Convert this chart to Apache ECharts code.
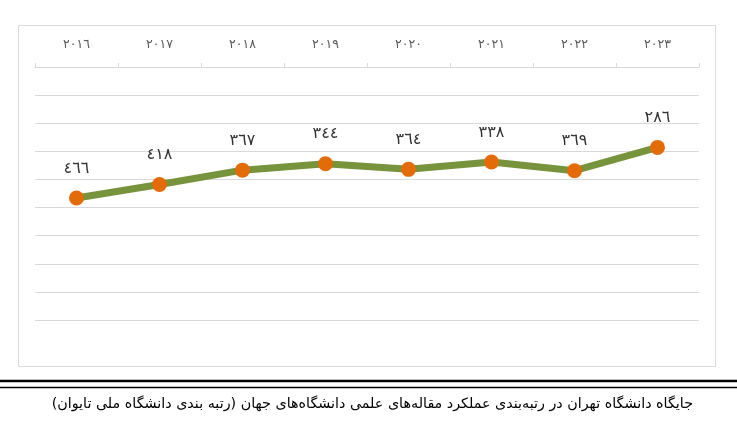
<!DOCTYPE html>
<html>
<head>
<meta charset="utf-8">
<script src="https://cdn.jsdelivr.net/npm/echarts@6/dist/echarts.min.js"></script>
<style>
html,body{margin:0;padding:0;background:#fff;}
#c{width:737px;height:442px;}
</style>
</head>
<body>
<div id="c"></div>
<script>
var years = ['٢٠١٦','٢٠١٧','٢٠١٨','٢٠١٩','٢٠٢٠','٢٠٢١','٢٠٢٢','٢٠٢٣'];
var ranks = [466, 418, 367, 344, 364, 338, 369, 286];
var rankLabels = ['٤٦٦','٤١٨','٣٦٧','٣٤٤','٣٦٤','٣٣٨','٣٦٩','٢٨٦'];
var caption = 'جایگاه دانشگاه تهران در رتبه‌بندی عملکرد مقاله‌های علمی دانشگاه‌های جهان (رتبه بندی دانشگاه ملی تایوان)\u200F';

var chart = echarts.init(document.getElementById('c'));
chart.setOption({
  animation: false,
  grid: {left: 35, right: 38, top: 67, bottom: 122},
  xAxis: {
    type: 'category',
    position: 'top',
    data: years,
    boundaryGap: true,
    axisLine: {lineStyle: {color: '#d9d9d9', width: 1}},
    axisTick: {show: true, length: 4, lineStyle: {color: '#d9d9d9'}},
    axisLabel: {color: '#595959', fontSize: 12.5, margin: 16, fontFamily: 'DejaVu Sans'}
  },
  yAxis: {
    type: 'value',
    inverse: true,
    min: 0, max: 900, interval: 100,
    axisLine: {show: false},
    axisTick: {show: false},
    axisLabel: {show: false},
    splitLine: {lineStyle: {color: '#d9d9d9', width: 1}}
  },
  series: [{
    type: 'line',
    data: ranks,
    symbol: 'circle',
    symbolSize: 15,
    itemStyle: {color: '#E36C09'},
    lineStyle: {color: '#77933C', width: 7},
    label: {
      show: true,
      position: 'top',
      distance: 14,
      color: '#333333',
      fontSize: 16,
      fontFamily: 'DejaVu Sans',
      formatter: function (p) { return rankLabels[p.dataIndex]; }
    },
    z: 3
  }],
  graphic: [
    {type: 'rect', shape: {x: 18.5, y: 25.5, width: 697, height: 341}, style: {fill: 'none', stroke: '#d9d9d9', lineWidth: 1}, z: -1},
    {type: 'line', shape: {x1: 0, y1: 381, x2: 737, y2: 381}, style: {stroke: '#000', lineWidth: 2.5}},
    {type: 'line', shape: {x1: 0, y1: 387.5, x2: 737, y2: 387.5}, style: {stroke: '#000', lineWidth: 1.3}},
    {type: 'text', right: 44, top: 397, style: {text: caption, fill: '#000', fontSize: 14.3, fontFamily: 'DejaVu Sans', textAlign: 'right'}}
  ]
});
</script>
</body>
</html>
